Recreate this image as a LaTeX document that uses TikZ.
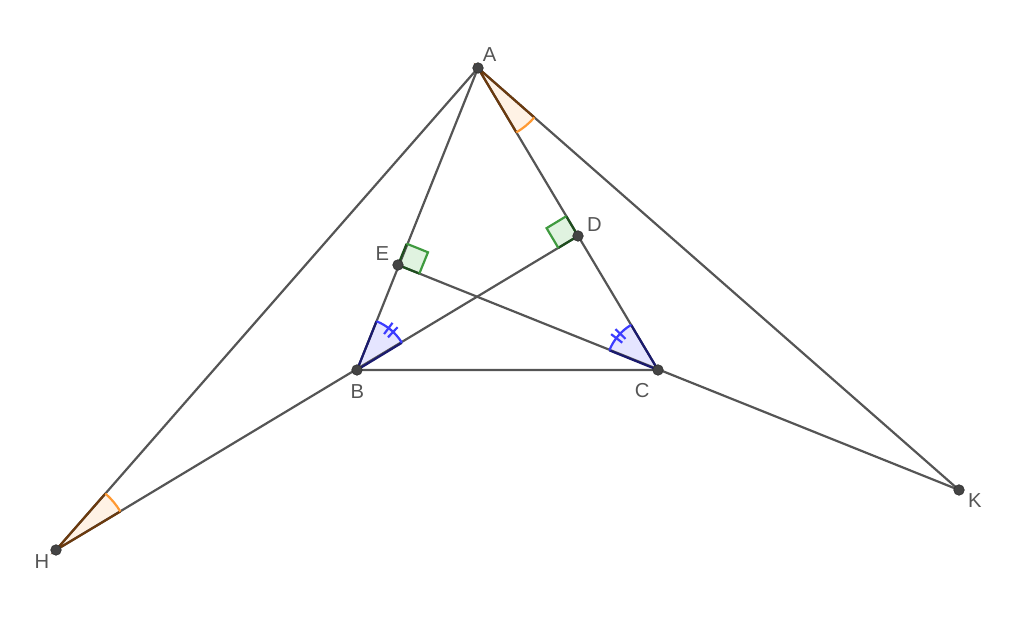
\documentclass[tikz,border=0pt]{standalone}
\usepackage{fontspec}
\setmainfont{Liberation Sans}
\usetikzlibrary{calc, angles}

\definecolor{segcol}{HTML}{555555}
\definecolor{ptcol}{HTML}{444444}
\definecolor{arcblue}{HTML}{3C3CFF}
\definecolor{navyline}{HTML}{1A1A6E}
\definecolor{arcorange}{HTML}{FF9933}
\definecolor{brownline}{HTML}{6B3A0E}
\definecolor{sqgreen}{HTML}{3F9A3F}
\definecolor{darkgreen}{HTML}{1E4E1E}

\begin{document}
\begin{tikzpicture}[x=0.02cm, y=0.02cm,
	seg/.style={draw=segcol, line width=1.25pt},
	pt/.style={circle, fill=ptcol, draw=black!80, inner sep=0pt, minimum size=0.21cm},
	lbl/.style={text=segcol, inner sep=1pt, font=\fontsize{11.5}{13}\selectfont}]
	\useasboundingbox (0,0) rectangle (1024,617);
	
	\coordinate (A) at (478,549);
	\coordinate (B) at (357,247);
	\coordinate (C) at (658,247);
	\coordinate (D) at (578,381);
	\coordinate (E) at (398,352);
	\coordinate (H) at (56,67);
	\coordinate (K) at (959,127);
	
	% filled angles
	\foreach \p/\v/\q in {D/B/A, A/C/E}
		\pic[fill=blue!10, angle radius=1.05cm] {angle=\p--\v--\q};
	\foreach \p/\v/\q in {C/A/K, B/H/A}
		\pic[fill=orange!10, angle radius=1.5cm] {angle=\p--\v--\q};
	% right angles
	\foreach \v/\p/\q in {E/A/C, D/B/A}{
		\coordinate (s1) at ($(\v)!0.46cm!(\p)$);
		\coordinate (s2) at ($(\v)!0.46cm!(\q)$);
		\coordinate (s3) at ($(s1)+(s2)-(\v)$);
		\fill[green!60!black!12] (\v) -- (s1) -- (s3) -- (s2) -- cycle;
	}
	
	\draw[seg] (A) -- (B) -- (C) -- cycle;
	\draw[seg] (H) -- (D);
	\draw[seg] (E) -- (K);
	\draw[seg] (A) -- (H);
	\draw[seg] (A) -- (K);
	
	% angle marks
	\foreach \p/\v/\q in {D/B/A, A/C/E}{
		\draw[navyline, line width=1.25pt] ($(\v)!1.05cm!(\p)$) -- (\v) -- ($(\v)!1.05cm!(\q)$);
		\pic[draw=arcblue, line width=1.25pt, angle radius=1.05cm] {angle=\p--\v--\q};
	}
	\foreach \p/\v/\q in {C/A/K, B/H/A}{
		\draw[brownline, line width=1.25pt] ($(\v)!1.5cm!(\p)$) -- (\v) -- ($(\v)!1.5cm!(\q)$);
		\pic[draw=arcorange, line width=1.25pt, angle radius=1.5cm] {angle=\p--\v--\q};
	}
	\foreach \v/\t in {B/46.5, B/53, C/136.2, C/142.6}
		\draw[arcblue, line width=1.25pt] ($(\v)+(\t:45)$) -- ($(\v)+(\t:59)$);
	\foreach \v/\p/\q in {E/A/C, D/B/A}{
		\coordinate (s1) at ($(\v)!0.46cm!(\p)$);
		\coordinate (s2) at ($(\v)!0.46cm!(\q)$);
		\coordinate (s3) at ($(s1)+(s2)-(\v)$);
		\draw[darkgreen, line width=1.25pt] (s1) -- (\v) -- (s2);
		\draw[sqgreen, line width=1.25pt] (s1) -- (s3) -- (s2);
	}
	
	% points
	\node[pt, label={[lbl]60:A}] (pA) at (A) {};
	\node[pt, label={[lbl, label distance=4pt]272:B}] (pB) at (B) {};
	\node[pt, label={[lbl, label distance=4pt]240:C}] (pC) at (C) {};
	\node[pt, label={[lbl, label distance=1pt]20:D}] (pD) at (D) {};
	\node[pt, label={[lbl, label distance=1pt]160:E}] (pE) at (E) {};
	\node[pt, label={[lbl]212:H}] (pH) at (H) {};
	\node[pt, label={[lbl, label distance=1pt]345:K}] (pK) at (K) {};
\end{tikzpicture}
\end{document}
